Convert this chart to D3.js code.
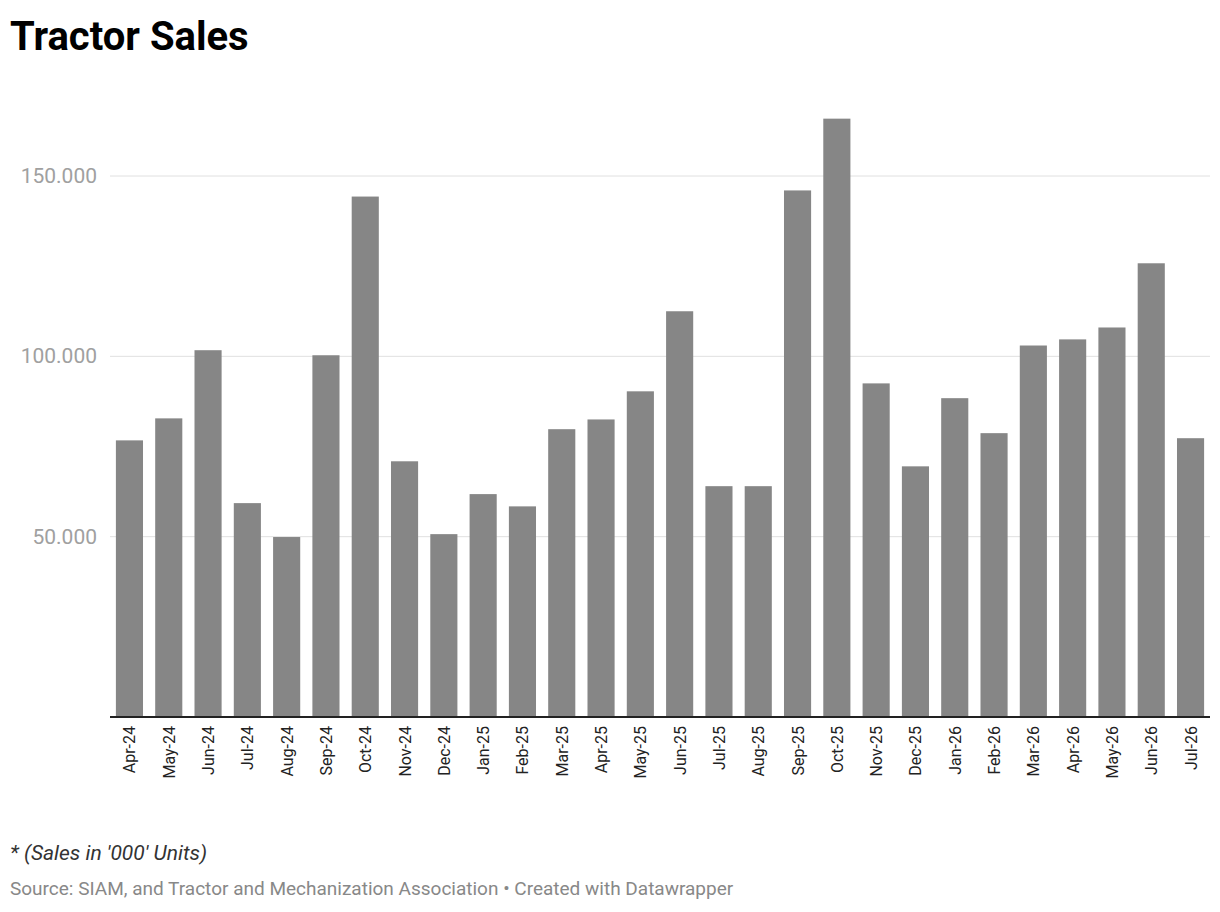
<!DOCTYPE html>
<html><head><meta charset="utf-8">
<script src="https://cdn.jsdelivr.net/npm/d3@7"></script>
<style>body{margin:0;background:#fff;font-family:Roboto,sans-serif}</style>
</head><body>
<svg id="c" width="1220" height="912"></svg>
<script>
const months = ["Apr-24","May-24","Jun-24","Jul-24","Aug-24","Sep-24","Oct-24","Nov-24","Dec-24","Jan-25","Feb-25","Mar-25","Apr-25","May-25","Jun-25","Jul-25","Aug-25","Sep-25","Oct-25","Nov-25","Dec-25","Jan-26","Feb-26","Mar-26","Apr-26","May-26","Jun-26","Jul-26"];
const sales = [76.7,82.8,101.7,59.3,49.9,100.3,144.3,70.9,50.7,61.8,58.4,79.8,82.5,90.3,112.5,64,64,146,165.9,92.5,69.5,88.4,78.7,103,104.7,108,125.8,77.3];
const yTicks = [50,100,150];
const tickLabels = ["50.000","100.000","150.000"];

const svg = d3.select("#c");
const x = d3.scaleBand().domain(months).range([110,1210]).paddingInner(0.31).paddingOuter(0.15);
const y = d3.scaleLinear().domain([0,150]).range([717,176]);

svg.append("text").attr("x",10).attr("y",50).attr("font-size",40).attr("font-weight",700).attr("fill","#000").text("Tractor Sales");

svg.selectAll("line.g").data(yTicks).join("line").attr("x1",110).attr("x2",1210)
  .attr("y1",d=>y(d)).attr("y2",d=>y(d)).attr("stroke","#e0e0e0").attr("stroke-width",1);
svg.selectAll("text.yt").data(yTicks).join("text").attr("x",97).attr("y",d=>y(d)+7)
  .attr("text-anchor","end").attr("font-size",21).attr("fill","#a0a0a0").text((d,i)=>tickLabels[i]);

svg.selectAll("rect").data(months).join("rect").attr("x",d=>x(d)).attr("width",x.bandwidth())
  .attr("y",(d,i)=>y(sales[i])).attr("height",(d,i)=>717-y(sales[i])).attr("fill","#868686");

svg.append("line").attr("x1",110).attr("x2",1210).attr("y1",717).attr("y2",717).attr("stroke","#222").attr("stroke-width",2);

svg.selectAll("text.xt").data(months).join("text")
  .attr("transform",d=>`translate(${x(d)+x.bandwidth()/2+6},726) rotate(-90)`)
  .attr("text-anchor","end").attr("font-size",16).attr("fill","#222").text(d=>d);

svg.append("text").attr("x",10).attr("y",860).attr("font-size",21).attr("font-style","italic").attr("fill","#333").text("* (Sales in '000' Units)");
svg.append("text").attr("x",10).attr("y",895).attr("font-size",19).attr("fill","#888").text("Source: SIAM, and Tractor and Mechanization Association • Created with Datawrapper");
</script>
</body></html>
